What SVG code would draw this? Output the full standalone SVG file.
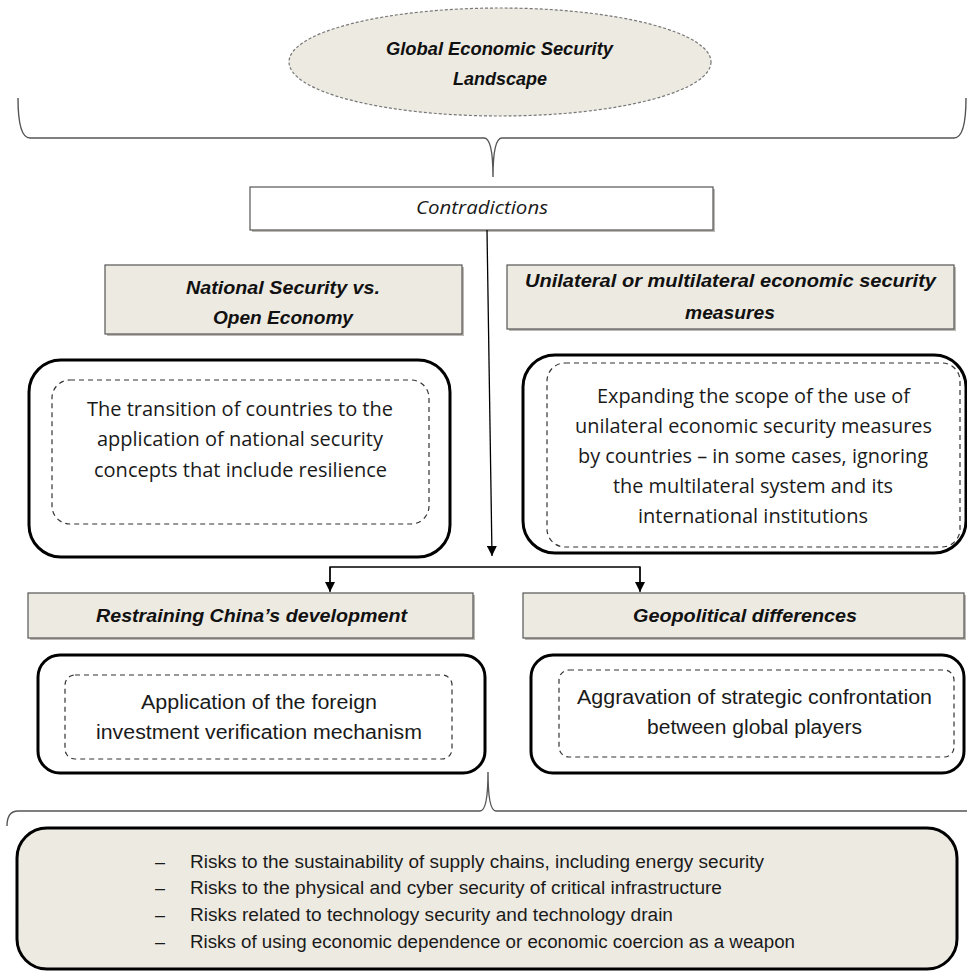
<svg xmlns="http://www.w3.org/2000/svg" width="967" height="971" viewBox="0 0 967 971">
<style>
.beige{fill:#edeae2}
.hdr{fill:#edeae2;stroke:#555;stroke-width:1.2}
.shadow{fill:#bdbab3}
.outer{fill:#fff;stroke:#000;stroke-width:3}
.inner{fill:none;stroke:#333;stroke-width:1.2;stroke-dasharray:5 4}
.conn{fill:none;stroke:#000;stroke-width:1.3}
.brace{fill:none;stroke:#555;stroke-width:1.4}
.cb{font-family:"Liberation Sans",Arial,sans-serif;font-weight:bold;font-style:italic;font-size:18px;fill:#111}
.os{font-family:"Open Sans","Noto Sans",sans-serif;font-size:20px;fill:#1a1a1a}
.osi{font-family:"Open Sans","Noto Sans",sans-serif;font-style:italic;font-size:18px;fill:#1a1a1a}
.cr{font-family:"Liberation Sans",Arial,sans-serif;font-size:20px;fill:#1a1a1a}
.crs{font-family:"Liberation Sans",Arial,sans-serif;font-size:18px;fill:#1a1a1a}
</style>
<defs>
<marker id="ah" viewBox="0 0 10 10" refX="10" refY="5" markerWidth="10" markerHeight="10" markerUnits="userSpaceOnUse" orient="auto">
<path d="M0,0 L10,5 L0,10 z" fill="#000"/>
</marker>
</defs>

<g id="landscape">
<ellipse cx="500" cy="62" rx="211" ry="54" fill="#edeae2" stroke="#777" stroke-width="1.2" stroke-dasharray="3 2"/>
<text class="cb" x="386" y="55" textLength="227" lengthAdjust="spacingAndGlyphs">Global Economic Security</text>
<text class="cb" x="453" y="85" textLength="94" lengthAdjust="spacingAndGlyphs">Landscape</text>
</g>

<g id="top-brace">
<path class="brace" d="M18,98 Q18,138 30,138 L484,138 Q493,138 493,177 Q493,138 502,138 L954,138 Q966,138 966,98"/>
</g>

<g id="contradictions">
<rect x="252" y="189" width="463" height="43" class="shadow"/>
<rect x="250" y="187" width="463" height="43" fill="#fff" stroke="#555" stroke-width="1.2"/>
<text class="osi" x="416" y="214" textLength="132" lengthAdjust="spacingAndGlyphs">Contradictions</text>
</g>

<g id="connectors">
<line class="conn" x1="487" y1="230" x2="492" y2="556" marker-end="url(#ah)"/>
<path class="conn" d="M330,591 L330,567 L640,567 L640,591"/>
<line class="conn" x1="330" y1="567" x2="330" y2="592" marker-end="url(#ah)"/>
<line class="conn" x1="640" y1="567" x2="640" y2="592" marker-end="url(#ah)"/>
</g>

<g id="national-security">
<rect x="107" y="267" width="357" height="69" class="shadow"/>
<rect x="105" y="265" width="357" height="69" class="hdr"/>
<text class="cb" x="186" y="294" textLength="194" lengthAdjust="spacingAndGlyphs">National Security vs.</text>
<text class="cb" x="213" y="324" textLength="140" lengthAdjust="spacingAndGlyphs">Open Economy</text>
</g>

<g id="unilateral">
<rect x="509" y="267" width="447" height="64" class="shadow"/>
<rect x="507" y="265" width="447" height="64" class="hdr"/>
<text class="cb" x="525" y="287" textLength="411" lengthAdjust="spacingAndGlyphs">Unilateral or multilateral economic security</text>
<text class="cb" x="685" y="319" textLength="90" lengthAdjust="spacingAndGlyphs">measures</text>
</g>

<g id="transition">
<rect x="29" y="360" width="421" height="197" rx="32" class="outer"/>
<rect x="52" y="380" width="377" height="144" rx="18" class="inner"/>
<text class="os" x="87" y="416" textLength="306" lengthAdjust="spacingAndGlyphs">The transition of countries to the</text>
<text class="os" x="97" y="446" textLength="286" lengthAdjust="spacingAndGlyphs">application of national security</text>
<text class="os" x="94" y="477" textLength="293" lengthAdjust="spacingAndGlyphs">concepts that include resilience</text>
</g>

<g id="expanding">
<rect x="523" y="355" width="443" height="198" rx="32" class="outer"/>
<rect x="547" y="363" width="413" height="184" rx="18" class="inner"/>
<text class="os" x="597" y="403" textLength="313" lengthAdjust="spacingAndGlyphs">Expanding the scope of the use of</text>
<text class="os" x="575" y="433" textLength="357" lengthAdjust="spacingAndGlyphs">unilateral economic security measures</text>
<text class="os" x="578" y="463" textLength="350" lengthAdjust="spacingAndGlyphs">by countries – in some cases, ignoring</text>
<text class="os" x="613" y="493" textLength="280" lengthAdjust="spacingAndGlyphs">the multilateral system and its</text>
<text class="os" x="638" y="523" textLength="230" lengthAdjust="spacingAndGlyphs">international institutions</text>
</g>

<g id="restraining">
<rect x="30" y="595" width="445" height="45" class="shadow"/>
<rect x="28" y="593" width="445" height="45" class="hdr"/>
<text class="cb" x="96" y="622" textLength="311" lengthAdjust="spacingAndGlyphs">Restraining China’s development</text>
</g>

<g id="geopolitical">
<rect x="525" y="595" width="441" height="45" class="shadow"/>
<rect x="523" y="593" width="441" height="45" class="hdr"/>
<text class="cb" x="633" y="622" textLength="224" lengthAdjust="spacingAndGlyphs">Geopolitical differences</text>
</g>

<g id="investment">
<rect x="38" y="655" width="447" height="118" rx="22" class="outer"/>
<rect x="65" y="675" width="387" height="84" rx="10" class="inner"/>
<text class="cr" x="141" y="709" textLength="236" lengthAdjust="spacingAndGlyphs">Application of the foreign</text>
<text class="cr" x="96" y="739" textLength="326" lengthAdjust="spacingAndGlyphs">investment verification mechanism</text>
</g>

<g id="aggravation">
<rect x="531" y="655" width="433" height="118" rx="22" class="outer"/>
<rect x="559" y="670" width="395" height="87" rx="10" class="inner"/>
<text class="cr" x="577" y="704" textLength="355" lengthAdjust="spacingAndGlyphs">Aggravation of strategic confrontation</text>
<text class="cr" x="647" y="734" textLength="215" lengthAdjust="spacingAndGlyphs">between global players</text>
</g>

<g id="bottom-brace">
<path class="brace" d="M7,826 Q7,811 18,811 L480,811 Q488,811 488,772 Q488,811 496,811 L967,811"/>
</g>

<g id="risks">
<rect x="17" y="828" width="940" height="141" rx="30" fill="#edeae2" stroke="#000" stroke-width="3"/>
<text class="crs" x="155" y="868">–</text>
<text class="crs" x="155" y="894">–</text>
<text class="crs" x="155" y="921">–</text>
<text class="crs" x="155" y="948">–</text>
<text class="crs" x="190" y="868" textLength="574" lengthAdjust="spacingAndGlyphs">Risks to the sustainability of supply chains, including energy security</text>
<text class="crs" x="190" y="894" textLength="532" lengthAdjust="spacingAndGlyphs">Risks to the physical and cyber security of critical infrastructure</text>
<text class="crs" x="190" y="921" textLength="483" lengthAdjust="spacingAndGlyphs">Risks related to technology security and technology drain</text>
<text class="crs" x="190" y="948" textLength="605" lengthAdjust="spacingAndGlyphs">Risks of using economic dependence or economic coercion as a weapon</text>
</g>
</svg>
